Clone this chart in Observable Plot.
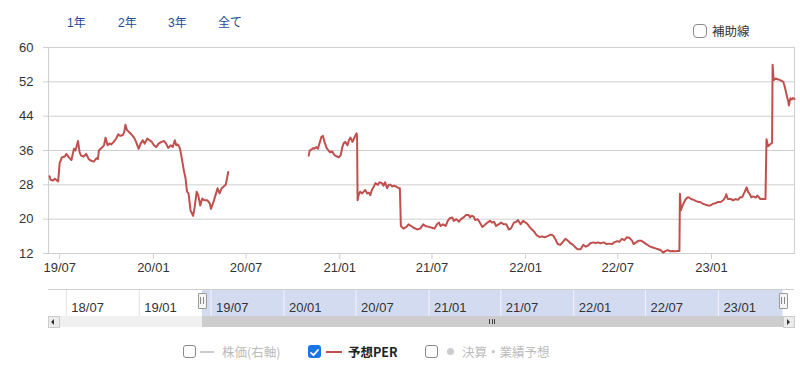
<!DOCTYPE html>
<html><head><meta charset="utf-8">
<script src="https://cdn.jsdelivr.net/npm/d3@7"></script>
<script src="https://cdn.jsdelivr.net/npm/@observablehq/plot@0.6"></script>
<style>
html,body{margin:0;padding:0;background:#fff;}
body{width:800px;height:369px;position:relative;overflow:hidden;font-family:"Liberation Sans","Noto Sans CJK JP",sans-serif;color:#333;}
.abs{position:absolute;}
.tab{position:absolute;top:15px;font-size:12px;color:#24499a;font-family:"Liberation Sans","Noto Sans CJK JP",sans-serif;line-height:16px;}
.cb{position:absolute;width:11px;height:11px;border:1.5px solid #8a8a8a;border-radius:3px;background:#fff;}
.cbon{position:absolute;width:13px;height:13px;border-radius:3px;background:#1b74e4;}
.lg{position:absolute;font-size:12.5px;line-height:16px;font-family:"Noto Sans CJK JP",sans-serif;}
</style></head><body>
<div id="main" class="abs" style="left:0;top:0"></div>
<div id="nav" class="abs" style="left:0;top:285px"></div>
<div id="ui"></div>
<script>
// ---- data ----
const yTicks = [12, 20, 28, 36, 44, 52, 60];
const xTickLabels = ["2019-07-01","2020-01-01","2020-07-01","2021-01-01","2021-07-01","2022-01-01","2022-07-01","2023-01-01"];
const navTickLabels = ["2018-07-01","2019-01-01","2019-07-01","2020-01-01","2020-07-01","2021-01-01","2021-07-01","2022-01-01","2022-07-01","2023-01-01"];
const mainDomain = ["2019-06-09","2023-06-13"];
const navDomain = ["2018-05-17","2023-07-12"];
const tabLabels = ["1年","2年","3年","全て"];

const perDates2019 = ["2019-06-11","2019-06-13","2019-06-18","2019-06-21","2019-06-24","2019-06-28","2019-07-01","2019-07-03","2019-07-05","2019-07-11","2019-07-14","2019-07-19","2019-07-24","2019-07-29","2019-08-01","2019-08-06","2019-08-09","2019-08-12","2019-08-17","2019-08-22","2019-08-27","2019-09-01","2019-09-06","2019-09-11","2019-09-14","2019-09-16","2019-09-21","2019-09-26","2019-09-29","2019-10-03","2019-10-07","2019-10-10","2019-10-15","2019-10-20","2019-10-24","2019-10-28","2019-11-02","2019-11-05","2019-11-07","2019-11-10","2019-11-15","2019-11-20","2019-11-24","2019-11-28","2019-12-03","2019-12-07","2019-12-11","2019-12-15","2019-12-20","2019-12-24","2019-12-29"];
const perValues2019 = [30.0,29.2,29.0,29.4,29.2,28.8,33.2,33.6,34.4,34.6,35.2,34.4,33.8,36.4,36.0,38.2,35.6,34.8,34.6,35.2,34.0,33.6,33.4,34.2,34.0,36.0,36.6,37.2,39.0,37.2,37.6,37.4,38.0,38.8,39.8,39.4,39.6,40.4,42.0,40.8,40.2,39.6,39.0,38.0,36.4,37.6,38.4,37.6,38.8,38.4,38.0];

const perDates2020 = ["2020-01-02","2020-01-07","2020-01-11","2020-01-17","2020-01-22","2020-01-26","2020-01-30","2020-02-04","2020-02-08","2020-02-12","2020-02-15","2020-02-18","2020-02-21","2020-02-23","2020-02-26","2020-03-01","2020-03-04","2020-03-07","2020-03-10","2020-03-14","2020-03-19","2020-03-22","2020-03-26","2020-03-29","2020-04-02","2020-04-06","2020-04-10","2020-04-16","2020-04-21","2020-04-23","2020-04-28","2020-05-02","2020-05-06","2020-05-10","2020-05-14","2020-05-18","2020-05-22","2020-05-24","2020-05-27","2020-07-01","2020-11-01","2020-11-03","2020-11-06","2020-11-10","2020-11-12","2020-11-16","2020-11-19","2020-11-23","2020-11-26","2020-11-29","2020-12-02","2020-12-06","2020-12-10","2020-12-13","2020-12-17","2020-12-20","2020-12-23","2020-12-27","2020-12-30"];
const perValues2020 = [37.2,36.8,37.6,38.0,38.2,37.6,36.6,37.2,36.8,38.4,37.2,37.4,36.8,36.0,34.0,31.2,29.6,26.4,26.0,22.0,20.8,22.8,26.4,25.6,23.2,24.8,24.4,24.4,23.6,22.4,24.0,25.6,27.2,26.0,27.2,27.6,28.0,29.2,31.0,null,34.8,36.0,36.2,36.6,36.4,36.8,36.4,38.0,39.2,39.4,38.0,36.6,36.0,35.6,35.8,35.2,34.8,34.6,34.4];

const perDates2021 = ["2021-01-03","2021-01-06","2021-01-09","2021-01-12","2021-01-16","2021-01-19","2021-01-22","2021-01-26","2021-01-29","2021-02-01","2021-02-03","2021-02-04","2021-02-05","2021-02-07","2021-02-10","2021-02-14","2021-02-17","2021-02-20","2021-02-24","2021-02-27","2021-03-02","2021-03-05","2021-03-09","2021-03-12","2021-03-17","2021-03-20","2021-03-25","2021-03-28","2021-03-31","2021-04-04","2021-04-07","2021-04-11","2021-04-14","2021-04-17","2021-04-22","2021-04-27","2021-04-29","2021-05-01","2021-05-06","2021-05-12","2021-05-16","2021-05-21","2021-05-26","2021-06-02","2021-06-08","2021-06-14","2021-06-18","2021-06-25","2021-07-01","2021-07-06","2021-07-11","2021-07-15","2021-07-18","2021-07-23","2021-07-28","2021-08-01","2021-08-05","2021-08-10","2021-08-13","2021-08-18","2021-08-23","2021-08-27","2021-09-01","2021-09-06","2021-09-11","2021-09-14","2021-09-17","2021-09-21","2021-09-24","2021-09-29","2021-10-03","2021-10-08","2021-10-12","2021-10-18","2021-10-23","2021-10-27","2021-10-31","2021-11-04","2021-11-09","2021-11-14","2021-11-19","2021-11-24","2021-11-29","2021-12-03","2021-12-09","2021-12-14","2021-12-17","2021-12-22","2021-12-27"];
const perValues2021 = [35.0,36.8,37.8,38.0,37.2,38.4,39.0,38.0,38.8,39.6,40.0,39.2,24.4,25.6,26.4,26.0,26.4,26.8,26.0,26.2,25.6,26.8,27.6,28.4,28.0,28.6,28.4,27.8,28.6,27.2,28.0,28.0,27.6,27.8,27.6,27.2,27.2,18.4,17.8,18.2,18.8,18.4,18.0,17.6,17.8,18.8,18.4,18.2,18.0,17.8,18.8,19.2,18.4,18.8,18.4,19.6,20.2,20.4,19.6,20.0,19.4,20.0,20.4,21.0,21.0,20.4,20.8,20.6,19.8,20.0,19.2,18.2,18.6,19.2,19.6,19.2,19.4,18.4,18.8,19.2,18.8,18.8,17.6,17.8,19.2,19.4,19.8,18.8,19.6];

const perDates2022 = ["2022-01-01","2022-01-05","2022-01-10","2022-01-17","2022-01-23","2022-01-29","2022-02-02","2022-02-07","2022-02-12","2022-02-19","2022-02-24","2022-03-01","2022-03-05","2022-03-10","2022-03-16","2022-03-20","2022-03-25","2022-03-30","2022-04-04","2022-04-09","2022-04-13","2022-04-19","2022-04-24","2022-04-29","2022-05-03","2022-05-08","2022-05-14","2022-05-18","2022-05-23","2022-05-28","2022-06-03","2022-06-09","2022-06-13","2022-06-20","2022-06-24","2022-06-30","2022-07-04","2022-07-09","2022-07-14","2022-07-19","2022-07-24","2022-07-29","2022-08-01","2022-08-06","2022-08-11","2022-08-16","2022-08-21","2022-08-26","2022-08-31","2022-09-05","2022-09-08","2022-09-13","2022-09-18","2022-09-23","2022-09-28","2022-10-03","2022-10-07","2022-10-12","2022-10-18","2022-10-22","2022-10-27","2022-10-30","2022-10-31","2022-11-02","2022-11-04","2022-11-07","2022-11-10","2022-11-14","2022-11-17","2022-11-22","2022-11-27","2022-12-02","2022-12-07","2022-12-10","2022-12-15","2022-12-20","2022-12-25","2022-12-30"];
const perValues2022 = [19.2,18.8,18.0,17.2,16.2,15.8,16.0,15.8,16.0,16.4,16.2,15.2,14.2,14.0,14.8,15.4,15.0,14.4,14.0,13.4,13.0,13.0,14.0,13.6,13.8,14.4,14.6,14.4,14.6,14.4,14.6,14.2,14.3,14.2,14.6,14.9,14.7,15.4,15.1,15.8,15.6,15.0,14.2,14.6,15.0,15.0,14.6,14.2,13.8,13.5,13.4,13.2,13.0,12.8,12.2,12.6,12.8,12.5,12.6,12.5,12.6,12.6,25.9,22.1,22.8,23.6,24.4,25.0,25.1,24.7,24.5,24.2,24.0,24.0,23.6,23.4,23.2,23.2];

const perDates2023 = ["2023-01-04","2023-01-09","2023-01-13","2023-01-19","2023-01-24","2023-01-28","2023-01-30","2023-02-02","2023-02-07","2023-02-13","2023-02-17","2023-02-22","2023-02-26","2023-03-02","2023-03-07","2023-03-11","2023-03-14","2023-03-17","2023-03-20","2023-03-24","2023-03-29","2023-04-01","2023-04-04","2023-04-07","2023-04-12","2023-04-17","2023-04-19","2023-04-22","2023-04-26","2023-04-30","2023-05-01","2023-05-03","2023-05-07","2023-05-11","2023-05-16","2023-05-22","2023-05-25","2023-05-28","2023-06-01","2023-06-02","2023-06-05","2023-06-08","2023-06-10","2023-06-13"];
const perValues2023 = [23.6,23.7,24.0,24.0,24.4,25.1,25.8,24.7,24.7,24.4,24.7,24.5,25.1,25.1,26.3,27.4,26.3,25.9,25.1,25.3,25.0,25.5,25.1,24.7,24.7,24.7,38.6,37.0,37.4,37.8,56.0,52.4,52.8,52.6,52.4,52.0,50.8,49.2,47.3,46.5,48.2,47.9,48.2,48.0];

// ---- build ----
const parse = s => new Date(s + "T00:00:00Z");
const allDates = [...perDates2019, ...perDates2020, ...perDates2021, ...perDates2022, ...perDates2023];
const allValues = [...perValues2019, ...perValues2020, ...perValues2021, ...perValues2022, ...perValues2023];
const per = allDates.map((d, i) => ({date: parse(d), value: allValues[i]}));
const xTicks = xTickLabels.map(parse);
const navTicks = navTickLabels.map(parse);
const mDom = mainDomain.map(parse);
const nDom = navDomain.map(parse);
const fmt = d3.utcFormat("%y/%m");
const FONT = '"Liberation Sans","Noto Sans CJK JP",sans-serif';

const main = Plot.plot({
  width: 800, height: 280,
  marginLeft: 48, marginRight: 6, marginTop: 47, marginBottom: 27,
  style: {fontFamily: FONT, fontSize: "13px", background: "transparent", color: "#333"},
  x: {type: "utc", domain: mDom},
  y: {domain: [12, 60]},
  marks: [
    Plot.gridY(yTicks, {stroke: "#cfcfcf", strokeOpacity: 1}),
    Plot.frame({stroke: "#cfcfcf"}),
    Plot.axisY(yTicks, {tickSize: 5, tickPadding: 10, stroke: "#cfcfcf", fill: "#333", fontSize: 13, label: null}),
    Plot.axisX(xTicks, {tickSize: 6, tickPadding: 3, stroke: "#cfcfcf", fill: "#333", fontSize: 13, tickFormat: fmt, label: null}),
    Plot.lineY(per, {x: "date", y: "value", stroke: "#c0504d", strokeWidth: 2, strokeLinejoin: "round"})
  ]
});
document.getElementById("main").appendChild(main);

const selStart = mDom[0], selEnd = mDom[1];
const nav = Plot.plot({
  width: 800, height: 42,
  marginLeft: 48, marginRight: 6, marginTop: 4, marginBottom: 11,
  style: {fontFamily: FONT, fontSize: "13px", background: "transparent", color: "#333"},
  x: {type: "utc", domain: nDom, axis: null},
  y: {domain: [0, 1], axis: null},
  marks: [
    Plot.rect([{a: selStart, b: selEnd}], {x1: "a", x2: "b", y1: 0, y2: 1, fill: "#d3dbf1"}),
    Plot.ruleX(navTicks.filter(d => d < selStart), {y1: 0, y2: 1, stroke: "#e2e2e2"}),
    Plot.ruleX(navTicks.filter(d => d >= selStart), {y1: 0, y2: 1, stroke: "#eef1fb", strokeWidth: 1.2}),
    Plot.ruleY([1], {stroke: "#cfcfcf"}),
    Plot.text(navTicks, {x: d => d, y: 0.33, text: d => fmt(d), dx: 5, textAnchor: "start", fill: "#333", fontSize: 13})
  ]
});
document.getElementById("nav").appendChild(nav);

// ---- UI chrome ----
const sx = nav.scale("x");
const hx0 = sx.apply(selStart), hx1 = sx.apply(selEnd);
let ui = "";
const tabX = [67, 118, 168, 218];
tabLabels.forEach((t, i) => { ui += `<div class="tab" style="left:${tabX[i]}px">${t}</div>`; });
ui += `<div class="cb" style="left:693px;top:24px;width:12px;height:12px;border-radius:4px"></div>`;
ui += `<div class="lg" style="left:712px;top:23px;color:#333;font-size:12.5px">補助線</div>`;
// scrollbar
ui += `<div class="abs" style="left:48px;top:316px;width:746px;height:11px;background:#f0f0f0"></div>`;
ui += `<div class="abs" style="left:${hx0}px;top:316px;width:${hx1 - hx0}px;height:11px;background:#cdcdcd"></div>`;
ui += `<div class="abs" style="left:48px;top:316px;width:10px;height:10px;background:#ececec;border:0.5px solid #ccc"></div>`;
ui += `<div class="abs" style="left:51px;top:318.5px;width:0;height:0;border-top:3px solid transparent;border-bottom:3px solid transparent;border-right:3px solid #333"></div>`;
ui += `<div class="abs" style="left:783px;top:316px;width:10px;height:10px;background:#ececec;border:0.5px solid #ccc"></div>`;
ui += `<div class="abs" style="left:787px;top:318.5px;width:0;height:0;border-top:3px solid transparent;border-bottom:3px solid transparent;border-left:3px solid #333"></div>`;
const gc = (hx0 + hx1) / 2;
for (let k = -1; k <= 1; k++) ui += `<div class="abs" style="left:${gc + k * 2.5 - 0.5}px;top:319px;width:1px;height:5px;background:#444"></div>`;
// handles
[hx0, hx1].forEach(h => {
  ui += `<div class="abs" style="left:${h - 4}px;top:293px;width:7px;height:14px;background:#f4f4f4;border:1px solid #999;border-radius:1px"></div>`;
  ui += `<div class="abs" style="left:${h - 2}px;top:297px;width:1px;height:7px;background:#888"></div>`;
  ui += `<div class="abs" style="left:${h + 1}px;top:297px;width:1px;height:7px;background:#888"></div>`;
});
// legend
ui += `<div class="cb" style="left:183px;top:345px"></div>`;
ui += `<div class="abs" style="left:200px;top:351px;width:14px;height:2px;background:#ccc"></div>`;
ui += `<div class="lg" style="left:222px;top:344px;color:#bbb">株価(右軸)</div>`;
ui += `<div class="cbon" style="left:308px;top:345px"><svg width="13" height="13" viewBox="0 0 13 13"><path d="M3 6.8 L5.5 9.2 L10 4" fill="none" stroke="#fff" stroke-width="1.8" stroke-linecap="round" stroke-linejoin="round"/></svg></div>`;
ui += `<div class="abs" style="left:326px;top:351px;width:16px;height:2px;background:#c0504d"></div>`;
ui += `<div class="lg" style="left:348px;top:344px;color:#222;font-weight:bold">予想PER</div>`;
ui += `<div class="cb" style="left:425px;top:345px"></div>`;
ui += `<div class="abs" style="left:447px;top:348px;width:7px;height:7px;border-radius:50%;background:#ccc"></div>`;
ui += `<div class="lg" style="left:462px;top:344px;color:#bbb">決算・業績予想</div>`;
document.getElementById("ui").innerHTML = ui;
</script>
</body></html>
